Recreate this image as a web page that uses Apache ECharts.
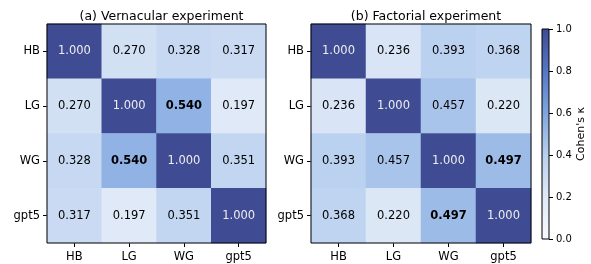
<!DOCTYPE html>
<html>
<head>
<meta charset="utf-8">
<script src="https://cdn.jsdelivr.net/npm/echarts@6/dist/echarts.min.js"></script>
<style>
  html, body { margin: 0; padding: 0; background: #fff; }
  #chart { width: 591px; height: 264px; }
</style>
</head>
<body>
<div id="chart"></div>
<script>
// annotators / models
const labels = ['HB', 'LG', 'WG', 'gpt5'];
// Cohen's kappa matrices (rows follow labels)
const vernacular = [
  [1.000, 0.270, 0.328, 0.317],
  [0.270, 1.000, 0.540, 0.197],
  [0.328, 0.540, 1.000, 0.351],
  [0.317, 0.197, 0.351, 1.000]
];
const factorial = [
  [1.000, 0.236, 0.393, 0.368],
  [0.236, 1.000, 0.457, 0.220],
  [0.393, 0.457, 1.000, 0.497],
  [0.368, 0.220, 0.497, 1.000]
];
const titles = ['(a) Vernacular experiment', '(b) Factorial experiment'];

const cmap = ['#f7fbff', '#e0e9f7', '#b9d0ef', '#7fa5df', '#5577c6', '#3f4b93'];
const font = 'DejaVu Sans';

function toCells(m) {
  let out = [];
  m.forEach((row, i) => row.forEach((v, j) => out.push([j, i, v])));
  return out;
}
function maxOffDiag(m) {
  let mx = -1;
  m.forEach((row, i) => row.forEach((v, j) => { if (i !== j && v > mx) mx = v; }));
  return mx;
}

const grids = [
  { left: 47, top: 24, width: 219, height: 219 },
  { left: 311, top: 24, width: 220, height: 219 }
];

let option = {
  backgroundColor: '#fff',
  animation: false,
  textStyle: { fontFamily: font },
  title: titles.map((t, k) => ({
    text: t,
    left: grids[k].left + grids[k].width / 2,
    textAlign: 'center',
    top: 5,
    textStyle: { fontFamily: font, fontSize: 12.5, fontWeight: 'normal', color: '#000' }
  })),
  grid: grids.map(g => Object.assign({ show: true, borderColor: '#000', borderWidth: 1, z: 10, backgroundColor: 'transparent' }, g))
    .concat([{ left: 542, top: 29, width: 7, height: 210, show: true, borderColor: '#000', borderWidth: 1, z: 10, backgroundColor: 'transparent' }]),
  xAxis: [],
  yAxis: [],
  visualMap: {
    type: 'continuous',
    min: 0, max: 1,
    show: false,
    seriesIndex: [0, 1],
    inRange: { color: cmap }
  },
  series: []
};

[vernacular, factorial].forEach((m, k) => {
  const best = maxOffDiag(m);
  option.xAxis.push({
    type: 'category', gridIndex: k, data: labels,
    axisLine: { show: false },
    axisTick: { show: true, alignWithLabel: true, length: 4, lineStyle: { color: '#000' } },
    axisLabel: { color: '#000', fontSize: 11.5, fontFamily: font, margin: 8 },
    splitLine: { show: false }
  });
  option.yAxis.push({
    type: 'category', gridIndex: k, data: labels, inverse: true,
    axisLine: { show: false },
    axisTick: { show: true, alignWithLabel: true, length: 4, lineStyle: { color: '#000' } },
    axisLabel: { color: '#000', fontSize: 11.5, fontFamily: font, margin: 7 },
    splitLine: { show: false }
  });
  option.series.push({
    type: 'heatmap',
    xAxisIndex: k, yAxisIndex: k,
    data: toCells(m),
    label: {
      show: true,
      fontFamily: font,
      fontSize: 11.5,
      formatter: p => {
        const v = p.value[2];
        const s = v.toFixed(3);
        if (v >= 0.9) return '{w|' + s + '}';
        if (p.value[0] !== p.value[1] && v === best) return '{b|' + s + '}';
        return '{n|' + s + '}';
      },
      rich: {
        w: { color: '#eeeeee', fontSize: 11.5, fontFamily: font },
        b: { color: '#000', fontSize: 11.5, fontFamily: font, fontWeight: 'bold' },
        n: { color: '#000', fontSize: 11.5, fontFamily: font }
      }
    },
    itemStyle: { borderWidth: 0 },
    emphasis: { disabled: true }
  });
});

// colorbar
option.xAxis.push({
  type: 'category', gridIndex: 2, data: ['k'],
  axisLine: { show: false }, axisTick: { show: false }, axisLabel: { show: false }
});
option.yAxis.push({
  type: 'value', gridIndex: 2, min: 0, max: 1, interval: 0.2,
  position: 'right',
  axisLine: { show: false },
  axisTick: { show: true, length: 4, lineStyle: { color: '#000' } },
  axisLabel: { color: '#000', fontSize: 10, fontFamily: font, margin: 7, formatter: v => v.toFixed(1) },
  splitLine: { show: false },
  name: "Cohen's κ",
  nameLocation: 'middle',
  nameRotate: 90,
  nameGap: 25,
  nameTextStyle: { color: '#000', fontSize: 11, fontFamily: font }
});
option.series.push({
  type: 'bar',
  xAxisIndex: 2, yAxisIndex: 2,
  data: [1],
  barWidth: '100%',
  itemStyle: {
    color: new echarts.graphic.LinearGradient(0, 1, 0, 0,
      cmap.map((c, i) => ({ offset: i / (cmap.length - 1), color: c })))
  },
  silent: true
});

const chart = echarts.init(document.getElementById('chart'), null, { renderer: 'canvas' });
chart.setOption(option);
</script>
</body>
</html>
